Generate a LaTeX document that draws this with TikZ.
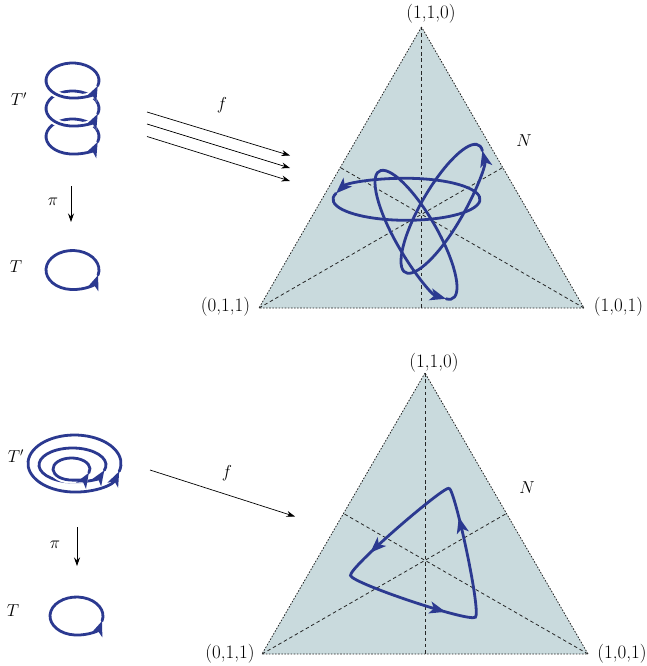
\documentclass[tikz,border=0pt]{standalone}
\usetikzlibrary{arrows.meta,decorations.markings,calc}
\definecolor{curveblue}{RGB}{43,57,144}
\definecolor{trifill}{RGB}{201,218,221}
\begin{document}
\begin{tikzpicture}[x=1pt,y=-1pt,
  curve/.style={color=curveblue, line width=2.8pt, line cap=round},
  halo/.style={preaction={draw=white, line width=7pt}},
  bluetip/.style={-{Stealth[length=16pt,width=12pt,inset=4pt]}},
  smalltip/.style={-{Stealth[length=15pt,width=11.5pt,inset=4pt]}},
  side/.style={draw=black!85, line width=0.8pt, dash pattern=on 1.6pt off 1.5pt},
  median/.style={draw=black!85, line width=0.8pt, dash pattern=on 3.5pt off 2.8pt},
  maparrow/.style={draw=black, line width=0.7pt, -{Stealth[length=8.5pt,width=6pt]}},
  vlabel/.style={font=\fontsize{19}{22}\selectfont, inner sep=0pt},
  mlabel/.style={font=\fontsize{17}{20}\selectfont, inner sep=0pt},
  tri marks/.style={postaction={decorate}, decoration={markings,
    mark=at position 0.257 with {\arrow{Stealth[length=16pt,width=12pt,inset=4pt]}},
    mark=at position 0.59 with {\arrow{Stealth[length=16pt,width=12pt,inset=4pt]}},
    mark=at position 0.923 with {\arrow{Stealth[length=16pt,width=12pt,inset=4pt]}}}}
]
\useasboundingbox (0,0) rectangle (646,666);

% ---------- top triangle ----------
\coordinate (A1) at (421.5,27);
\coordinate (L1) at (259,308);
\coordinate (R1) at (584,308);
\coordinate (G1) at (421.5,214.3);
\fill[trifill] (A1) -- (L1) -- (R1) -- cycle;
\draw[side] (A1) -- (L1) -- (R1) -- cycle;
\draw[median] (A1) -- ($(L1)!0.5!(R1)$);
\draw[median] (L1) -- ($(A1)!0.5!(R1)$);
\draw[median] (R1) -- ($(A1)!0.5!(L1)$);
\node[vlabel] (v110a) at (431,14) {(1,1,0)};
\node[vlabel] (v011a) at (225.5,307) {(0,1,1)};
\node[vlabel] (v101a) at (618.5,307) {(1,0,1)};
\node[mlabel] (Na) at (524,141) {$N$};

\foreach \rot in {0,120,-120}{
  \begin{scope}[rotate around={\rot:(G1)}]
    \draw[curve,bluetip] (406.5,199.3) ++(196.5:73.5 and 21)
      arc[start angle=196.5, end angle=-163.5, x radius=73.5, y radius=21];
  \end{scope}
}

% ---------- top left ----------
\node[mlabel] (Tpa) at (19,99) {$T'$};
\foreach \cy in {136.5,108.5,80.5}{
  \draw[curve,halo,smalltip] (72.5,\cy) ++(378:26.5 and 17.5)
    arc[start angle=378, end angle=18, x radius=26.5, y radius=17.5];
}
\node[mlabel] (pia) at (53,202) {$\pi$};
\coordinate (pis1) at (71,186);
\coordinate (pie1) at (71,222);
\draw[maparrow] (pis1) -- (pie1);
\node[mlabel] (Ta) at (16,267) {$T$};
\draw[curve,smalltip] (72.5,270) ++(375:26.5 and 19.5)
  arc[start angle=375, end angle=15, x radius=26.5, y radius=19.5];

\node[mlabel] (fa) at (222,105) {$f$};
\coordinate (fs1) at (147,112);   \coordinate (fe1) at (290,155.5);
\coordinate (fs2) at (147,124);   \coordinate (fe2) at (290,168);
\coordinate (fs3) at (147,136.5); \coordinate (fe3) at (290,181);
\draw[maparrow] (fs1) -- (fe1);
\draw[maparrow] (fs2) -- (fe2);
\draw[maparrow] (fs3) -- (fe3);

% ---------- bottom triangle ----------
\coordinate (A2) at (425,373);
\coordinate (L2) at (262,654);
\coordinate (R2) at (588,654);
\fill[trifill] (A2) -- (L2) -- (R2) -- cycle;
\draw[side] (A2) -- (L2) -- (R2) -- cycle;
\draw[median] (A2) -- ($(L2)!0.5!(R2)$);
\draw[median] (L2) -- ($(A2)!0.5!(R2)$);
\draw[median] (R2) -- ($(A2)!0.5!(L2)$);
\node[vlabel] (v110b) at (434,363) {(1,1,0)};
\node[vlabel] (v011b) at (230,654) {(0,1,1)};
\node[vlabel] (v101b) at (622,654) {(1,0,1)};
\node[mlabel] (Nb) at (527,488) {$N$};

\draw[curve,tri marks] (449.1,488.2)
  .. controls (443.5,486.3) and (348.9,567.7) .. (350.5,575.5)
  .. controls (352.1,583.3) and (469.4,622.5) .. (475.4,617.2)
  .. controls (481.4,611.9) and (455,490) .. (449.1,488.2);

% ---------- bottom left ----------
\node[mlabel] (Tpb) at (16,456) {$T'$};
\draw[curve,halo,smalltip] (74.5,463.5) ++(376:46.5 and 28.5)
  arc[start angle=376, end angle=16, x radius=46.5, y radius=28.5];
\draw[curve,halo,smalltip] (72.5,465) ++(378:33.5 and 17)
  arc[start angle=378, end angle=18, x radius=33.5, y radius=17];
\draw[curve,halo,smalltip] (71.5,469) ++(380:18.5 and 11)
  arc[start angle=380, end angle=20, x radius=18.5, y radius=11];

\node[mlabel] (pib) at (55,545) {$\pi$};
\coordinate (pis2) at (77,527);
\coordinate (pie2) at (77,566);
\draw[maparrow] (pis2) -- (pie2);
\node[mlabel] (Tb) at (13,611) {$T$};
\draw[curve,smalltip] (76.5,616) ++(375:26.5 and 19)
  arc[start angle=375, end angle=15, x radius=26.5, y radius=19];

\node[mlabel] (fb) at (227,473) {$f$};
\coordinate (fs4) at (150,470);
\coordinate (fe4) at (295,516.5);
\draw[maparrow] (fs4) -- (fe4);
\end{tikzpicture}
\end{document}
